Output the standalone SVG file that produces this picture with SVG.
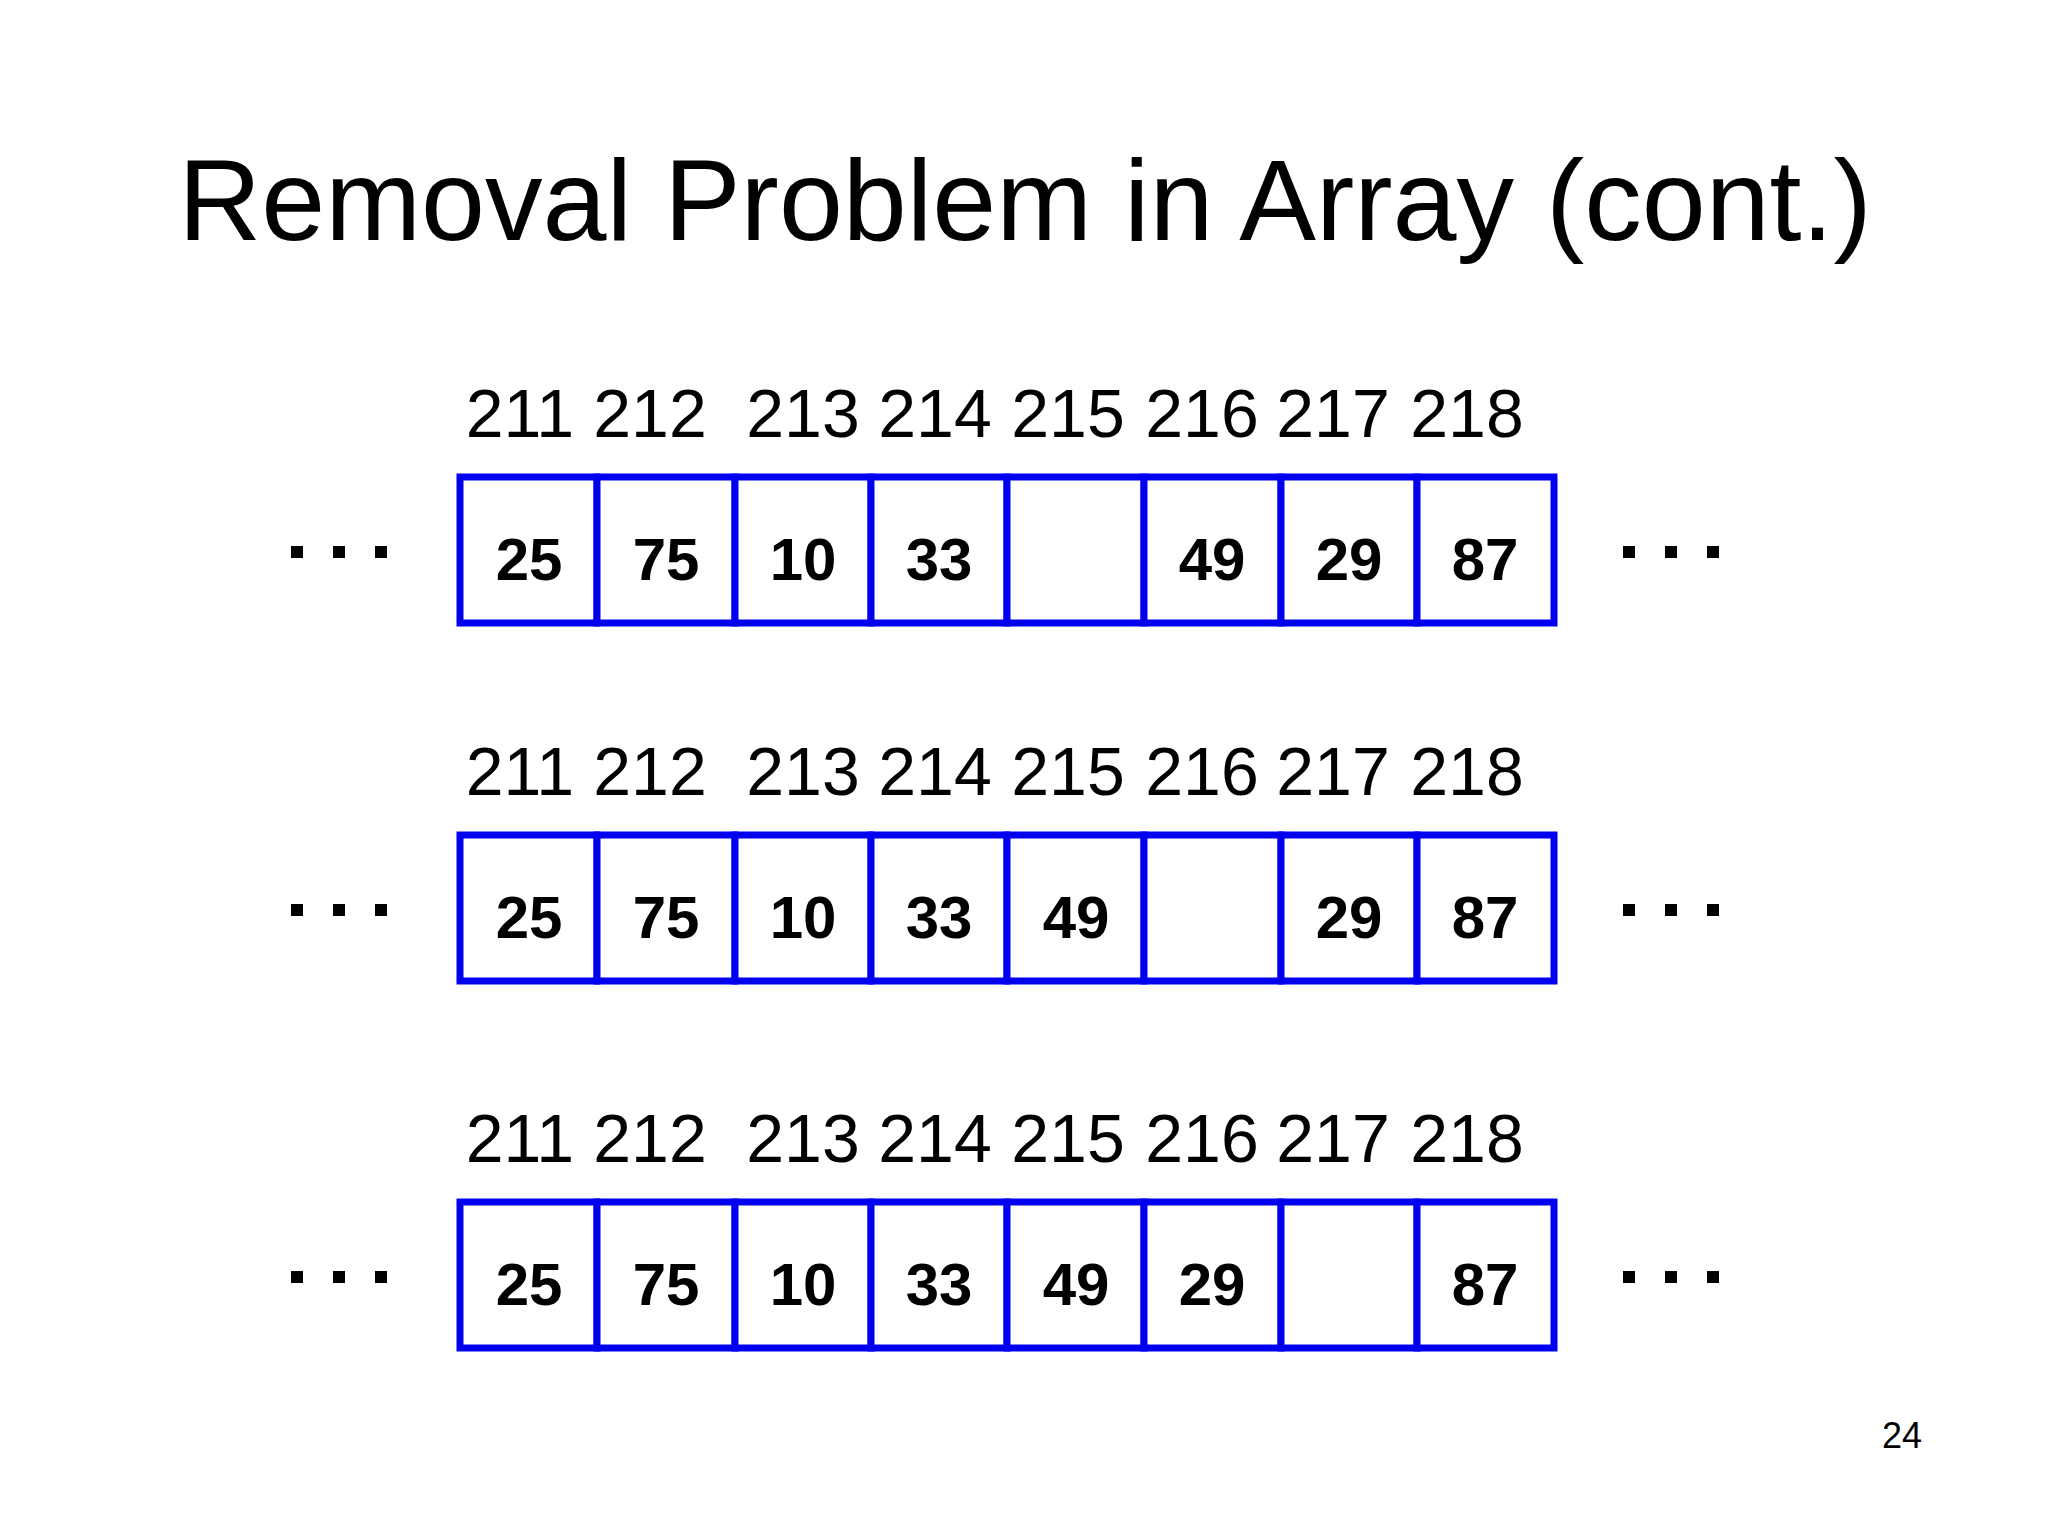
<svg xmlns="http://www.w3.org/2000/svg" width="2048" height="1536" viewBox="0 0 2048 1536">
<style>
text{font-family:"Liberation Sans",Arial,sans-serif;text-anchor:middle;fill:#000}
.c{fill:#fff;stroke:#0000ee;stroke-width:7}
.v{font-size:60px;font-weight:bold}
.i{font-size:68px}
</style>
<rect width="2048" height="1536" fill="#fff"/>
<text x="1025" y="240" font-size="115">Removal Problem in Array (cont.)</text>
<defs>
<g id="idx">
<text class="i" x="520" y="0">211</text><text class="i" x="650" y="0">212</text><text class="i" x="803" y="0">213</text><text class="i" x="935" y="0">214</text><text class="i" x="1068" y="0">215</text><text class="i" x="1202" y="0">216</text><text class="i" x="1333" y="0">217</text><text class="i" x="1467" y="0">218</text>
</g>
<g id="cells">
<rect class="c" x="460" y="0" width="137" height="146"/><rect class="c" x="597" y="0" width="138" height="146"/><rect class="c" x="735" y="0" width="136" height="146"/><rect class="c" x="871" y="0" width="136" height="146"/><rect class="c" x="1007" y="0" width="137" height="146"/><rect class="c" x="1144" y="0" width="137" height="146"/><rect class="c" x="1281" y="0" width="136" height="146"/><rect class="c" x="1417" y="0" width="137" height="146"/>
<rect x="291" y="69" width="12" height="12"/><rect x="333" y="69" width="12" height="12"/><rect x="375" y="69" width="12" height="12"/>
<rect x="1623" y="69" width="12" height="12"/><rect x="1665" y="69" width="12" height="12"/><rect x="1707" y="69" width="12" height="12"/>
</g>
</defs>
<g id="row1">
<use href="#idx" y="437"/>
<use href="#cells" y="477"/>
<text class="v" x="529" y="580">25</text><text class="v" x="666" y="580">75</text><text class="v" x="803" y="580">10</text><text class="v" x="939" y="580">33</text><text class="v" x="1212" y="580">49</text><text class="v" x="1349" y="580">29</text><text class="v" x="1485" y="580">87</text>
</g>
<g id="row2">
<use href="#idx" y="795"/>
<use href="#cells" y="835"/>
<text class="v" x="529" y="938">25</text><text class="v" x="666" y="938">75</text><text class="v" x="803" y="938">10</text><text class="v" x="939" y="938">33</text><text class="v" x="1076" y="938">49</text><text class="v" x="1349" y="938">29</text><text class="v" x="1485" y="938">87</text>
</g>
<g id="row3">
<use href="#idx" y="1162"/>
<use href="#cells" y="1202"/>
<text class="v" x="529" y="1305">25</text><text class="v" x="666" y="1305">75</text><text class="v" x="803" y="1305">10</text><text class="v" x="939" y="1305">33</text><text class="v" x="1076" y="1305">49</text><text class="v" x="1212" y="1305">29</text><text class="v" x="1485" y="1305">87</text>
</g>
<text x="1902" y="1448" font-size="36">24</text>
</svg>
